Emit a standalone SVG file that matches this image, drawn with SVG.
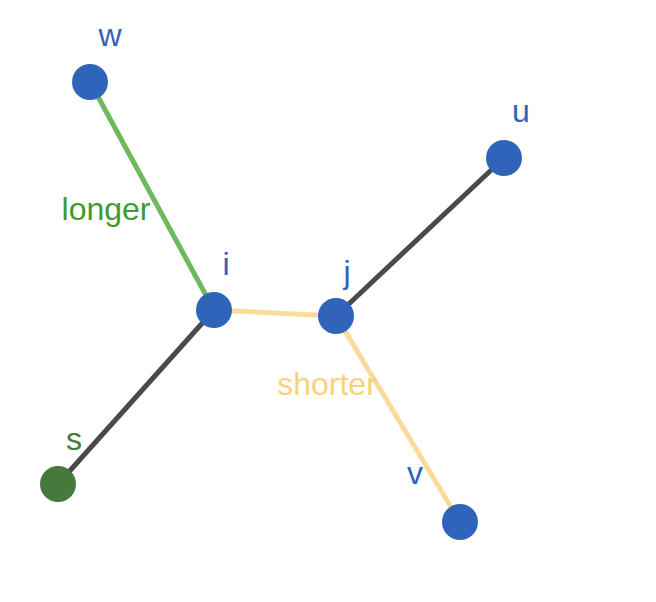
<svg xmlns="http://www.w3.org/2000/svg" width="656" height="602" viewBox="0 0 656 602">
<style>
.edge{stroke-width:5;fill:none}
.dark{stroke:#4a4a4a}
.green{stroke:#6cba5c}
.yellow{stroke:#fadb9c}
.node{fill:#3064ba}
text{font-family:"Liberation Sans",Arial,sans-serif;font-size:32px;text-anchor:middle}
.bl{fill:#3064ba}
</style>
<rect width="656" height="602" fill="#fff"/>
<g id="connectors">
<line class="edge green" x1="90" y1="82" x2="214" y2="310"/>
<line class="edge dark" x1="214" y1="310" x2="58" y2="484"/>
<line class="edge yellow" x1="214" y1="310" x2="336" y2="316"/>
<line class="edge dark" x1="336" y1="316" x2="504" y2="158"/>
<line class="edge yellow" x1="336" y1="316" x2="460" y2="522"/>
<text x="106" y="220" fill="#3f9a2f">longer</text>
<text x="327" y="395" fill="#f9d17a">shorter</text>
</g>
<g id="node-w"><circle class="node" cx="90" cy="82" r="18"/><text class="bl" x="110" y="46">w</text></g>
<g id="node-u"><circle class="node" cx="504" cy="158" r="18"/><text class="bl" x="521" y="122">u</text></g>
<g id="node-i"><circle class="node" cx="214" cy="310" r="18"/><text class="bl" x="226" y="275">i</text></g>
<g id="node-j"><circle class="node" cx="336" cy="316" r="18"/><text class="bl" x="347" y="283">j</text></g>
<g id="node-s"><circle cx="58" cy="484" r="18" fill="#457a3c"/><text x="74" y="450" fill="#457a3c">s</text></g>
<g id="node-v"><circle class="node" cx="460" cy="522" r="18"/><text class="bl" x="415" y="484">v</text></g>
</svg>
